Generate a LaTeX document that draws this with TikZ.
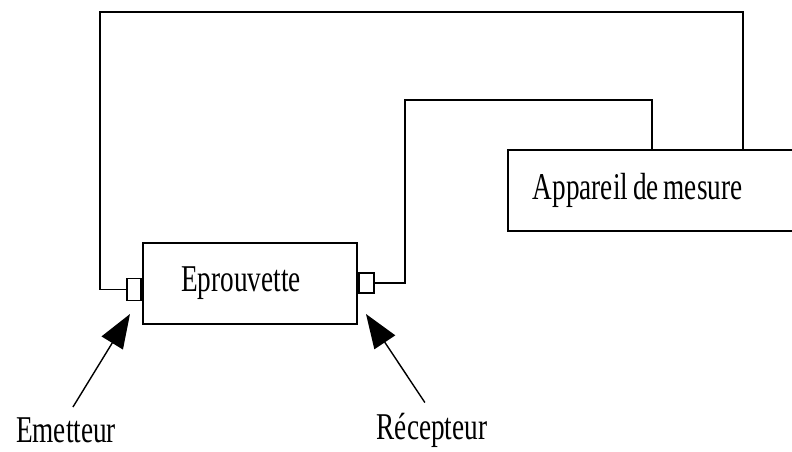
\documentclass[tikz,border=0pt]{standalone}
\usepackage{fontspec}
\setmainfont{Liberation Serif}[FakeStretch=0.72]
\usepackage{tikz}
\usetikzlibrary{arrows.meta}
\newcommand{\lblfont}{\fontsize{26.9}{30}\selectfont}
\newcommand{\wsp}{\hspace{3.5pt}}

\begin{document}
\begin{tikzpicture}[x=0.025cm, y=-0.025cm, line width=1.3pt,
  box/.style={draw, rectangle, inner sep=0pt},
  lbl/.style={font=\lblfont},
  ptr/.style={-{Triangle[length=0.85cm, width=0.62cm]}, line width=1pt}]
\useasboundingbox (0,0) rectangle (792,452);
% boxes
\node[box, lbl, minimum width=5.35cm, minimum height=2.025cm] (epr) at (250,283.5) {\hspace{-0.45cm}Eprouvette};
\node[box, lbl, anchor=north west, minimum height=2.025cm, text width=6.25cm, inner xsep=0.625cm, align=left] (app) at (507,149) {Appareil\wsp de\wsp mesure};
% small squares
\node[box, minimum width=0.35cm, minimum height=0.55cm, anchor=east] (semit) at (epr.west |- 0,289.5) {};
\node[box, minimum width=0.37cm, minimum height=0.5cm, anchor=west] (srec) at (epr.east |- 0,283) {};
% wires
\coordinate (tl) at (100,12);
\coordinate (tr) at (743,12);
\coordinate (ml) at (405,100);
\coordinate (mr) at (652,100);
\draw (semit.west) -| (tl) -- (tr) -- (tr |- app.north);
\draw (srec.east) -| (ml) -- (mr) -- (mr |- app.north);
% labels and arrows
\node[lbl] (emit) at (66,430) {Emetteur};
\node[lbl] (recep) at (432,430) {Récepteur};
\coordinate (emtip) at (130,314);
\coordinate (rectip) at (366,314);
\draw[ptr, shorten <=4pt] (emit.north) ++(4,0) -- (emtip);
\draw[ptr, shorten <=4pt] (recep.north) ++(-4,0) -- (rectip);
\end{tikzpicture}
\end{document}
